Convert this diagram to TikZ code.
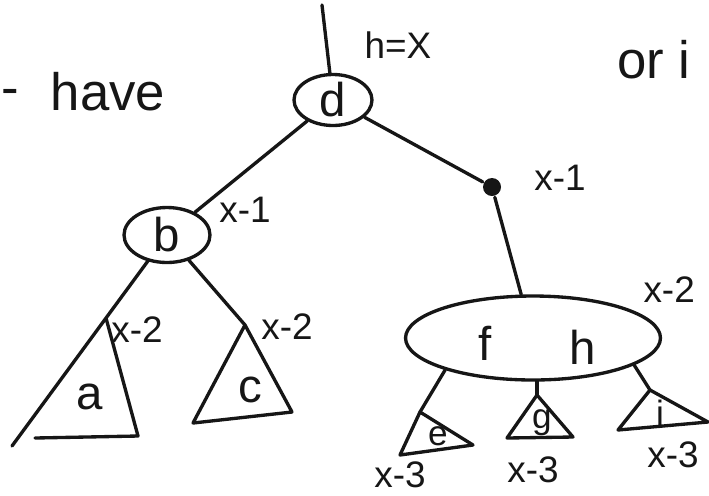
\documentclass[tikz,border=0pt]{standalone}
\usepackage{fontspec}
\setmainfont{Liberation Sans}
\usetikzlibrary{shapes.geometric, positioning, calc}
\definecolor{inkblack}{RGB}{22, 22, 22}

\begin{document}
\begin{tikzpicture}[x=0.02cm, y=-0.02cm, line width=1.9pt, color=inkblack,
    line join=round, line cap=round,
    treenode/.style={draw, ellipse, inner sep=0pt},
    letter/.style={font=\fontsize{27}{30}\selectfont},
    smallletter/.style={font=\fontsize{20}{24}\selectfont},
    hlabel/.style={font=\fontsize{21}{24}\selectfont}]
    \useasboundingbox (0,0) rectangle (709,495);

    % words around the tree
    \node[font=\fontsize{30}{34}\selectfont, anchor=west, inner sep=0pt] (dash) at (0,97) {-};
    \node[font=\fontsize{30}{34}\selectfont] (have) at (108,92) {have};
    \node[font=\fontsize{30}{34}\selectfont, anchor=west] (ori) at (610,60) {or i};

    % upper part
    \coordinate (top) at (322,5);
    \node[treenode, letter, minimum width=1.56cm, minimum height=1.02cm] (d) at (333,100) {d};
    \node[treenode, letter, minimum width=1.72cm, minimum height=1.1cm] (b) at (167,235) {b};
    \node[circle, fill, inner sep=0pt, minimum size=0.36cm] (dot) at (492,187) {};
    \node[treenode, minimum width=5.1cm, minimum height=1.68cm] (fh) at (533,338) {};
    \node[letter] (f) at (485,343) {f};
    \node[letter] (h) at (583,347) {h};

    \draw (top) -- (d);
    \draw (d) -- (b);
    \draw (d) -- (dot);
    \draw (dot) -- (fh);

    \node[hlabel] (lroot) at (398,45) {h=X};
    \node[hlabel] (lb) at (245,210) {x-1};
    \node[hlabel] (ldot) at (560,178) {x-1};
    \node[hlabel, anchor=west] (lfh) at (636,290) {x-2};

    % left subtrees
    \coordinate (aTop) at (106,318);
    \coordinate (aEnd) at (12,446);
    \draw (b) -- (aEnd);
    \draw (aTop) -- (138,436) -- (35,438);
    \node[letter] (a) at (90,397) {a};
    \node[hlabel] (la) at (137,330) {x-2};

    \coordinate (cTop) at (245,325);
    \draw (b) -- (cTop);
    \draw (cTop) -- (292,412) -- (193,423) -- cycle;
    \node[letter] (c) at (250,390) {c};
    \node[hlabel] (lc) at (287,327) {x-2};

    % right subtrees
    \coordinate (eTop) at (420,412);
    \coordinate (gTop) at (537,395);
    \coordinate (iTop) at (650,390);
    \draw (fh.200) -- (eTop);
    \draw (fh.south -| gTop) -- (gTop);
    \draw (fh.-15) -- (iTop);

    \draw (eTop) -- (473,445) -- (400,455) -- cycle;
    \draw (gTop) -- (573,437) -- (507,438) -- cycle;
    \draw (iTop) -- (708,422) -- (618,430) -- cycle;
    \node[smallletter] (e) at (438,436) {e};
    \node[smallletter] (g) at (542,423) {g};
    \node[smallletter] (i) at (660,413) {i};

    \node[hlabel] (le) at (400,475) {x-3};
    \node[hlabel] (lg) at (533,470) {x-3};
    \node[hlabel] (li) at (673,455) {x-3};
\end{tikzpicture}
\end{document}
